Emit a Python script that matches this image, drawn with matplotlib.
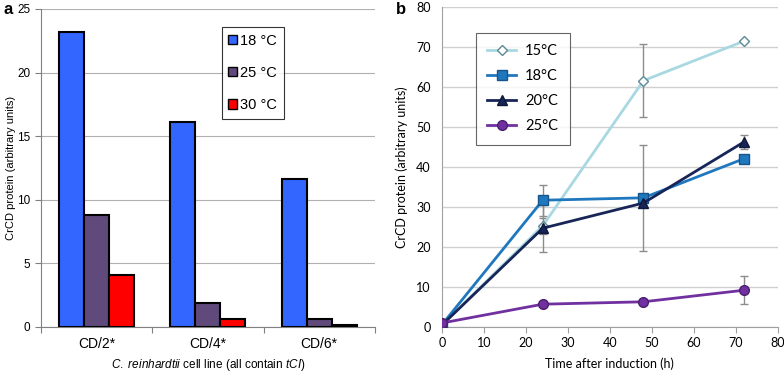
import numpy as np
import matplotlib.pyplot as plt

plt.rcParams['mathtext.fontset'] = 'custom'
plt.rcParams['mathtext.rm'] = 'Liberation Sans'
plt.rcParams['mathtext.it'] = 'Liberation Sans:italic'

# Panel a data
lines_a = ['CD/2*', 'CD/4*', 'CD/6*']
temps_a = ['18 °C', '25 °C', '30 °C']
vals_18 = [23.2, 16.1, 11.6]
vals_25 = [8.8, 1.9, 0.65]
vals_30 = [4.1, 0.6, 0.18]

# Panel b data
time_h = [0, 24, 48, 72]
temps_b = ['15°C', '18°C', '20°C', '25°C']
p15 = [0.5, 25.3, 61.6, 71.5]
p15_err = [0, 2.0, 9.2, 0]
p18 = [0.6, 31.7, 32.3, 42.1]
p18_err = [0, 3.9, 13.2, 0]
p20 = [0.5, 24.7, 31.0, 46.3]
p20_err = [0, 5.9, 0, 1.8]
p25 = [1.0, 5.7, 6.3, 9.2]
p25_err = [0, 0, 0, 3.5]

fig = plt.figure(figsize=(7.84, 3.72), dpi=100)

# ---------- panel a ----------
ax = fig.add_axes([0.0523, 0.121, 0.4257, 0.855])
x = np.arange(len(lines_a))
w = 0.225
cols_a = ['#3366FF', '#604A7B', '#FF0000']
for i, (v, c, lab) in enumerate(zip([vals_18, vals_25, vals_30], cols_a, temps_a)):
    ax.bar(x + (i - 1) * w, v, w, color=c, edgecolor='black', linewidth=1.5,
           label=lab, zorder=3)
ax.set_xlim(-0.5, 2.5)
ax.set_ylim(0, 25)
ax.set_yticks([0, 5, 10, 15, 20, 25])
ax.grid(axis='y', color='#B0B0B0', linewidth=0.8, zorder=0)
ax.set_xticks([-0.5, 0.5, 1.5, 2.5])
ax.set_xticklabels([])
ax.set_xticks(x, minor=True)
ax.set_xticklabels(lines_a, minor=True)
ax.tick_params(axis='x', which='minor', length=0, pad=7)
ax.tick_params(axis='x', which='major', length=4, color='#808080')
ax.tick_params(axis='y', length=4, color='#808080')
ax.tick_params(labelsize=8.5)
for lbl in ax.get_xticklabels(minor=True) + ax.get_yticklabels():
    lbl.set_family('Liberation Sans')
for s in ['top', 'right']:
    ax.spines[s].set_visible(False)
for s in ['left', 'bottom']:
    ax.spines[s].set_color('#808080')
ax.set_ylabel('CrCD protein (arbitrary units)', fontsize=8, family='Liberation Sans')
ax.yaxis.set_label_coords(-0.075, 0.5)
ax.set_xlabel(r'$\it{C.\ reinhardtii}$ cell line (all contain $\it{tCI}$)',
              fontsize=8.5, family='Liberation Sans')
ax.xaxis.set_label_coords(0.5, -0.095)
leg = ax.legend(loc='upper left', bbox_to_anchor=(0.542, 0.943), prop={'family': 'Liberation Sans', 'size': 10.5},
                frameon=True, fancybox=False, edgecolor='black', handlelength=0.6,
                handleheight=0.6, handletextpad=0.2, labelspacing=1.25, borderpad=0.45,
                borderaxespad=0)
leg.get_frame().set_linewidth(0.8)
for h in leg.legend_handles:
    h.set_linewidth(1.0)

# ---------- panel b ----------
bx = fig.add_axes([0.5638, 0.121, 0.4282, 0.86])
series = [
    (p15, p15_err, '#A8D8E2', 'D', 'white', '#5B8A96', 5),
    (p18, p18_err, '#1F77BE', 's', '#1F77BE', '#16548A', 7),
    (p20, p20_err, '#172558', '^', '#172558', '#0E1838', 6.5),
    (p25, p25_err, '#7030A0', 'o', '#7030A0', '#4A1F6C', 7),
]
for (v, e, c, m, fc, ec, ms), lab in zip(series, temps_b):
    t = np.array(time_h)
    v = np.array(v)
    e = np.array(e)
    has = e > 0
    bx.errorbar(t[has], v[has], yerr=e[has], fmt='none', ecolor='#8C8C8C',
                elinewidth=1.0, capsize=3, capthick=1.0, zorder=2)
    bx.plot(t, v, color=c, linewidth=2, marker=m, markersize=ms,
            markerfacecolor=fc, markeredgecolor=ec, markeredgewidth=1.0,
            label=lab, zorder=3)
bx.set_xlim(0, 80)
bx.set_ylim(0, 80)
bx.set_xticks(range(0, 81, 10))
bx.set_yticks(range(0, 81, 10))
bx.grid(axis='y', color='#D0D0D0', linewidth=1.0, zorder=0)
bx.tick_params(axis='x', length=4, color='#A0A0A0')
bx.tick_params(axis='y', length=0, pad=8)
bx.tick_params(labelsize=9)
for lbl in bx.get_xticklabels() + bx.get_yticklabels():
    lbl.set_family('Lato')
for s in ['top', 'right']:
    bx.spines[s].set_visible(False)
for s in ['left', 'bottom']:
    bx.spines[s].set_color('#A0A0A0')
bx.set_ylabel('CrCD protein (arbitrary units)', fontsize=9, family='Lato', labelpad=6)
bx.set_xlabel('Time after induction (h)', fontsize=9, family='Lato', labelpad=6)
leg2 = bx.legend(loc='upper left', bbox_to_anchor=(0.1, 0.92), prop={'family': 'Lato', 'size': 10.5},
                 frameon=True, fancybox=False, edgecolor='#404040', handlelength=2.0,
                 handletextpad=0.6, labelspacing=0.75, borderpad=0.8, borderaxespad=0)
leg2.get_frame().set_linewidth(0.8)

fig.text(0.004, 0.975, 'a', fontsize=12, fontweight='bold', family='Liberation Sans', va='center')
fig.text(0.505, 0.975, 'b', fontsize=12, fontweight='bold', family='Liberation Sans', va='center')

fig.savefig('out.png', dpi=100)
